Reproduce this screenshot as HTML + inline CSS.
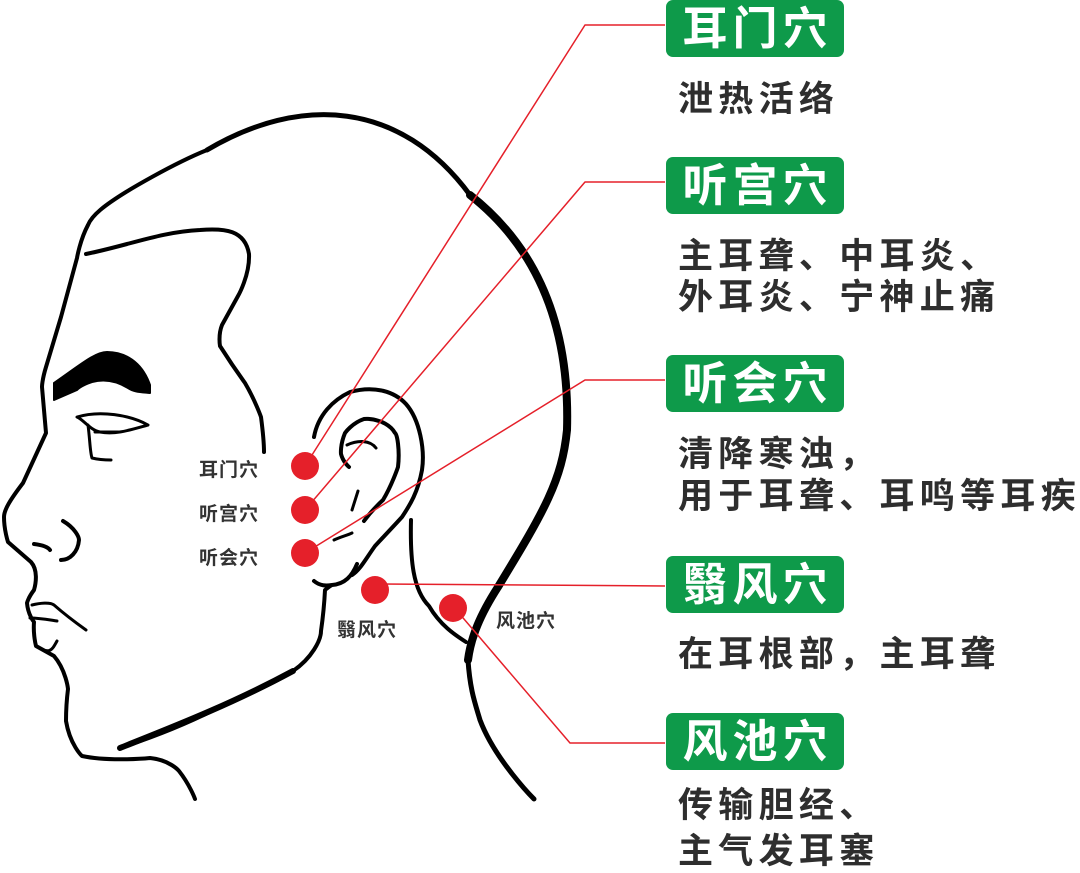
<!DOCTYPE html>
<html><head><meta charset="utf-8"><style>
body{margin:0;background:#fff;width:1080px;height:871px;overflow:hidden;position:relative;font-family:"Liberation Sans","Noto Sans CJK SC",sans-serif}
.box{position:absolute;left:666px;width:178px;height:57px;background:#0e9a4a;border-radius:7px;color:#fff;font-size:45px;font-weight:bold;line-height:57px;text-align:center;letter-spacing:5px;text-indent:5px}
.d{position:absolute;left:678px;color:#2e2e2e;font-size:35px;font-weight:bold;letter-spacing:5.3px;white-space:nowrap;line-height:42px}
.s{position:absolute;color:#333;font-size:19px;font-weight:bold;letter-spacing:1px;white-space:nowrap}
svg{position:absolute;left:0;top:0}
</style></head><body>
<svg width="1080" height="871" viewBox="0 0 1080 871" fill="none" stroke="#000" stroke-linecap="round" stroke-linejoin="round">
<path d="M207,150 C170,165 126,192 126,192 C105,205 92,215 88,225 C80,240 77,258 77,258 L61,317 L46,367 C42,380 42,387 42,387 C44,410 46,433 46,433 L23,483 C10,500 4,510 4,517 C4,530 8,542 8,542 L31,562 C38,570 36,583 34,590 C28,598 27,603 27,603 C28,615 34,622 34,622 C33,635 36,646 36,646 L54,656 C66,670 68,689 68,689 C66,705 66,721 66,721 C70,745 82,756 82,756 C110,762 150,758 150,758 C170,760 179,771 179,771 C190,785 195,799 195,799" stroke-width="4"/>
<path d="M207,150 C300,95 400,100 470,195" stroke-width="5"/>
<path d="M470,195 C540,250 570,330 567,430 C562,480 545,510 498,587 C480,615 471,637 468,660" stroke-width="8"/>
<path d="M468,660 C470,690 475,703 480,720 C495,760 534,799 534,799" stroke-width="5"/>
<path d="M86,254 C130,245 160,232 200,230 C225,228 245,230 249,254 C250,275 238,296 238,296 L222,325 C218,335 220,346 220,346 C232,365 245,383 245,383 C255,400 261,417 261,417 C264,440 264,452 264,452" stroke-width="4"/>
<path d="M32,605 C40,603 50,602 54,605 C62,612 72,620 86,630 M30,618 C40,618 50,620 57,621 M57,641 C52,650 50,655 36,646" stroke-width="3"/>
<path d="M120,748 C160,735 190,722 214,710 C250,693 275,683 293,671 C312,658 321,640 321,631 C324,610 325,590 325,590 C330,586 332,585 332,585 C345,584 352,576 357,564 M314,581 C320,586 326,586 332,585" stroke-width="4"/>
<path d="M120,748 C170,728 230,705 293,671" stroke-width="6"/>
<path d="M411,520 C410,560 413,590 429,606 C440,625 455,635 466,642" stroke-width="4"/>
<path d="M314,437 C318,415 333,400 350,392 C375,385 395,392 406,404 C420,420 425,450 422,470 C418,492 410,505 402,517 C390,530 375,546 375,546 C365,560 360,570 352,575" stroke-width="4"/>
<path d="M364,521 C372,510 383,500 383,500 C392,485 398,467 398,467 C400,450 397,433 395,433 C390,424 379,421 379,421 C370,418 364,419 364,419 C352,423 345,433 345,433 C340,445 341,454 341,454 C343,462 349,467 349,467" stroke-width="4"/>
<path d="M347,445 C358,440 370,440 376,448 M358,491 L352,510 M334,540 C340,537 348,535 352,533" stroke-width="3"/>
<path d="M54,383 C80,365 95,352 107,352 C125,352 142,362 150,385 L150,393 C140,392 134,392 128,388 C115,380 103,379 92,382 C80,386 77,390 77,390 L54,400 Z" fill="#000" stroke-width="2"/>
<path d="M77,417 C100,410 130,415 148,425 C130,430 115,435 100,432 C90,430 84,420 77,417 Z" stroke-width="3"/>
<path d="M88,425 C90,440 90,452 92,458 C100,460 111,460 111,460 M95,432 L118,432" stroke-width="3"/>
<path d="M63,521 C75,528 79,537 79,540 C78,552 70,560 61,560 M34,544 C42,545 48,547 50,550" stroke-width="4"/>
<g stroke="#e5202a" stroke-width="1.5" stroke-linecap="butt">
<polyline points="305,466 585,25 665,25"/>
<polyline points="305,510 585,182 665,182"/>
<polyline points="305,553 585,380 665,380"/>
<polyline points="374,584 665,586"/>
<polyline points="452,605 570,743 665,743"/>
</g>
<g fill="#e5202a" stroke="none">
<circle cx="305" cy="466" r="14"/>
<circle cx="305" cy="510" r="14"/>
<circle cx="305" cy="553" r="14"/>
<circle cx="375" cy="590" r="14"/>
<circle cx="453" cy="608" r="14"/>
</g>
</svg>
<div class="s" style="left:199px;top:455px">耳门穴</div>
<div class="s" style="left:199px;top:499px">听宫穴</div>
<div class="s" style="left:199px;top:543px">听会穴</div>
<div class="s" style="left:337px;top:615px">翳风穴</div>
<div class="s" style="left:496px;top:606px">风池穴</div>

<div class="box" style="top:0">耳门穴</div>
<div class="d" style="top:79px">泄热活络</div>
<div class="box" style="top:157px">听宫穴</div>
<div class="d" style="top:236px">主耳聋、中耳炎、</div>
<div class="d" style="top:277px">外耳炎、宁神止痛</div>
<div class="box" style="top:355px">听会穴</div>
<div class="d" style="top:434px">清降寒浊，</div>
<div class="d" style="top:476px">用于耳聋、耳鸣等耳疾</div>
<div class="box" style="top:556px">翳风穴</div>
<div class="d" style="top:634px">在耳根部，主耳聋</div>
<div class="box" style="top:713px">风池穴</div>
<div class="d" style="top:785px">传输胆经、</div>
<div class="d" style="top:831px">主气发耳塞</div>
</body></html>
